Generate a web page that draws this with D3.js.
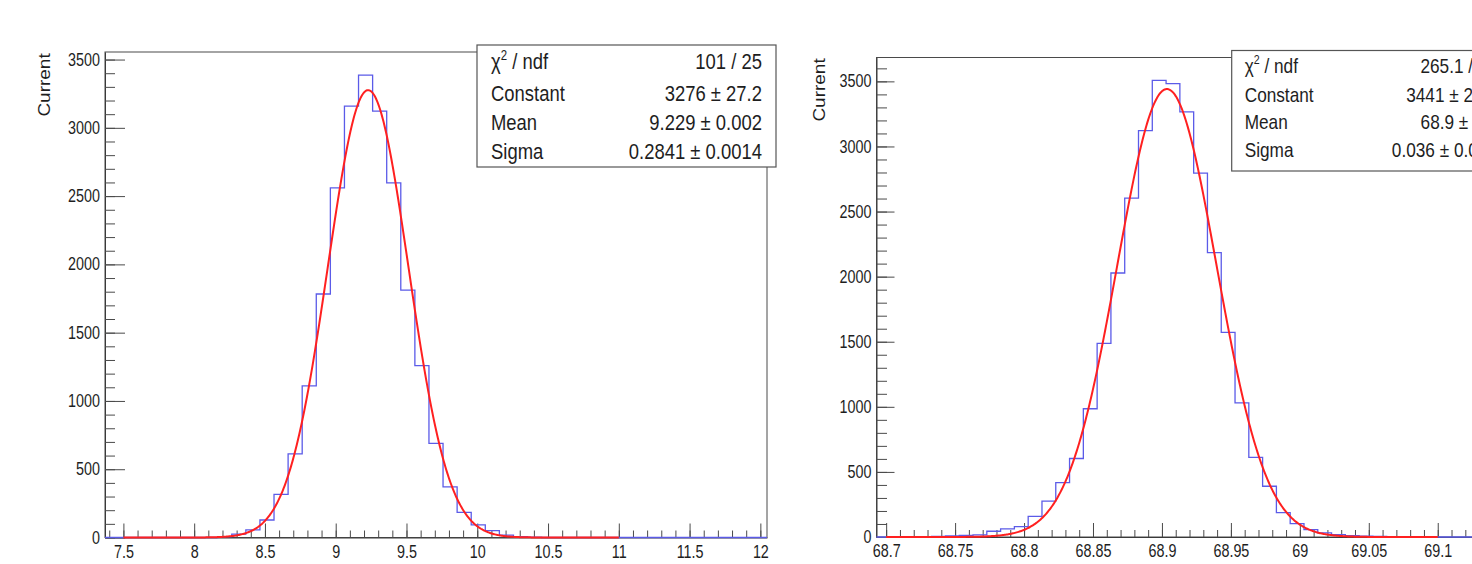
<!DOCTYPE html>
<html><head><meta charset="utf-8">
<script src="https://cdn.jsdelivr.net/npm/d3@7"></script>
<style>
body{margin:0;background:#fff}
svg{display:block}
text{font-family:"Liberation Sans",Arial,sans-serif;fill:#1e1e1e}
</style>
</head><body>
<svg id="c" width="1472" height="564"></svg>
<script>
// ---------------- data ----------------
const leftRange = [7.37, 12.047];
const leftCounts = [0,0,0,0,0,0,0,0,6,25,56,128,316,613,1111,1783,2561,3159,3386,3122,2597,1812,1258,690,370,184,92,50,18,7,3,0,0,0,0,0,0,0,0,0,0,0,0,0,0,0,0];
const leftXTickValues = [7.5,8,8.5,9,9.5,10,10.5,11,11.5,12];
const leftXTickLabels = ["7.5","8","8.5","9","9.5","10","10.5","11","11.5","12"];
const leftFit = {constant:3276, mean:9.229, sigma:0.2841, from:7.5, to:11};
const leftStatLabels = ["χ2 / ndf","Constant","Mean","Sigma"];
const leftStatValues = ["101 / 25","3276 ± 27.2","9.229 ± 0.002","0.2841 ± 0.0014"];

const rightRange = [68.693, 69.173];
const rightCounts = [0,0,1,2,5,9,12,16,44,62,80,159,275,418,603,985,1488,2028,2603,3121,3508,3482,3265,2795,2185,1572,1031,611,390,188,103,57,31,18,10,6,4,2,1,0,0,0,0,0,0,0,0,0];
const rightXTickValues = [68.7,68.75,68.8,68.85,68.9,68.95,69,69.05,69.1];
const rightXTickLabels = ["68.7","68.75","68.8","68.85","68.9","68.95","69","69.05","69.1"];
const rightFit = {constant:3441, mean:68.9036, sigma:0.036, from:68.7, to:69.1};
const rightStatLabels = ["χ2 / ndf","Constant","Mean","Sigma"];
const rightStatValues = ["265.1 / 25","3441 ± 27.6","68.9 ± 0.0","0.036 ± 0.000"];

const yTickValues = [0,500,1000,1500,2000,2500,3000,3500];
const yTickLabels = ["0","500","1000","1500","2000","2500","3000","3500"];
const yTitle = "Current";

// ---------------- drawing ----------------
const svg = d3.select("#c");
const SX = 0.82;

function txt(g, x, y, s, size, anchor){
  return g.append("text")
    .attr("transform", `translate(${x},${y}) scale(${SX},1)`)
    .attr("text-anchor", anchor)
    .style("font-size", size + "px")
    .text(s);
}

function panel(cfg){
  const g = svg.append("g");
  const nb = cfg.counts.length;
  const bw = (cfg.range[1]-cfg.range[0]) / nb;
  const ymax = d3.max(cfg.counts) * 1.05;
  const x = d3.scaleLinear().domain(cfg.range).range([cfg.left, cfg.right]);
  const y = d3.scaleLinear().domain([0, ymax]).range([cfg.bottom, cfg.top]);

  // frame
  g.append("rect").attr("x", cfg.left).attr("y", cfg.top)
    .attr("width", cfg.right-cfg.left).attr("height", cfg.bottom-cfg.top)
    .attr("fill","none").attr("stroke","#4a4a4a").attr("stroke-width",1);

  // minor ticks
  const xMinor = d3.range(Math.ceil(cfg.range[0]/cfg.xMinorStep - 1e-6), Math.floor(cfg.range[1]/cfg.xMinorStep + 1e-6) + 1)
      .map(i => +(i*cfg.xMinorStep).toFixed(6));
  g.append("g").attr("transform",`translate(0,${cfg.bottom})`)
    .call(d3.axisBottom(x).tickValues(xMinor).tickSize(-7).tickSizeOuter(0).tickFormat(""))
    .call(a => a.selectAll("line").attr("stroke","#4a4a4a"))
    .call(a => a.select(".domain").attr("stroke","#3a3a3a"));
  const yMinor = d3.range(0, Math.floor(ymax/100)+1).map(i => i*100);
  g.append("g").attr("transform",`translate(${cfg.left},0)`)
    .call(d3.axisLeft(y).tickValues(yMinor).tickSize(-cfg.yMinorLen).tickSizeOuter(0).tickFormat(""))
    .call(a => a.selectAll("line").attr("stroke","#4a4a4a"))
    .call(a => a.select(".domain").attr("stroke","#3a3a3a"));

  // major ticks + labels
  const xa = g.append("g").attr("transform",`translate(0,${cfg.bottom})`)
    .call(d3.axisBottom(x).tickValues(cfg.xTicks).tickFormat((d,i)=>cfg.xLabels[i])
      .tickSize(-14).tickSizeOuter(0).tickPadding(8));
  xa.select(".domain").remove();
  xa.selectAll("line").attr("stroke","#4a4a4a");
  xa.selectAll("text").attr("transform",`scale(${SX},1)`).attr("fill","#1e1e1e")
    .style("font-family","Liberation Sans, Arial, sans-serif").style("font-size","17.5px");

  const ya = g.append("g").attr("transform",`translate(${cfg.left},0)`)
    .call(d3.axisLeft(y).tickValues(yTickValues).tickFormat((d,i)=>yTickLabels[i])
      .tickSize(-cfg.yMajorLen).tickSizeOuter(0).tickPadding(5));
  ya.select(".domain").remove();
  ya.selectAll("line").attr("stroke","#4a4a4a");
  ya.selectAll("text").attr("x", -5/SX).attr("transform",`scale(${SX},1)`).attr("fill","#1e1e1e")
    .style("font-family","Liberation Sans, Arial, sans-serif").style("font-size","17.5px");

  // y title
  g.append("text")
    .attr("transform",`translate(${cfg.titleX},${cfg.titleY}) scale(${SX},1) rotate(-90)`)
    .attr("text-anchor","end").style("font-size","19px").text(yTitle);

  // histogram outline
  const pts = [[cfg.range[0], 0]];
  cfg.counts.forEach((c,i) => {
    const e0 = cfg.range[0] + i*bw, e1 = cfg.range[0] + (i+1)*bw;
    pts.push([e0, c]); pts.push([e1, c]);
  });
  pts.push([cfg.range[1], 0]);
  g.append("path").datum(pts)
    .attr("d", d3.line().x(d=>x(d[0])).y(d=>y(d[1])))
    .attr("fill","none").attr("stroke","#5b5be8").attr("stroke-width",1.3);

  // gaussian fit curve from the fitted parameters
  const f = cfg.fit;
  const fx = d3.range(0, 601).map(i => f.from + (f.to-f.from)*i/600);
  g.append("path").datum(fx)
    .attr("d", d3.line().x(d=>x(d)).y(d=>y(f.constant*Math.exp(-0.5*Math.pow((d-f.mean)/f.sigma,2)))))
    .attr("fill","none").attr("stroke","#ff2020").attr("stroke-width",2);

  // stat box
  const b = cfg.box;
  g.append("rect").attr("x",b.x).attr("y",b.y).attr("width",b.w).attr("height",b.h)
    .attr("fill","#fff").attr("stroke","#555").attr("stroke-width",1.2);
  cfg.statLabels.forEach((s,i) => {
    const t = g.append("text")
      .attr("transform",`translate(${b.x+b.padL},${b.rows[i]}) scale(${SX},1)`)
      .style("font-size", b.fs+"px");
    if (s.startsWith("χ2")) {
      t.append("tspan").text("χ");
      t.append("tspan").attr("dy", -0.42*b.fs).style("font-size",(b.fs*0.62)+"px").text("2");
      t.append("tspan").attr("dy", 0.42*b.fs).text(" / ndf");
    } else t.text(s);
    txt(g, b.valueR, b.rows[i], cfg.statValues[i], b.fs, "end");
  });
}

panel({
  range:leftRange, counts:leftCounts, xTicks:leftXTickValues, xLabels:leftXTickLabels,
  fit:leftFit, statLabels:leftStatLabels, statValues:leftStatValues,
  left:105, right:767, top:52, bottom:537.5, xMinorStep:0.1,
  yMajorLen:20, yMinorLen:10, titleX:50, titleY:53.3,
  box:{x:477, y:45, w:299, h:122, padL:14, valueR:762, fs:22.5, rows:[69,100.5,129.5,158.5]}
});
panel({
  range:rightRange, counts:rightCounts, xTicks:rightXTickValues, xLabels:rightXTickLabels,
  fit:rightFit, statLabels:rightStatLabels, statValues:rightStatValues,
  left:876.5, right:1538.4, top:57.5, bottom:537, xMinorStep:0.01,
  yMajorLen:18, yMinorLen:10.5, titleX:825, titleY:58.3,
  box:{x:1231.7, y:50.5, w:282, h:120.5, padL:13, valueR:1497, fs:21, rows:[73,101.5,129,157]}
});
</script>
</body></html>
